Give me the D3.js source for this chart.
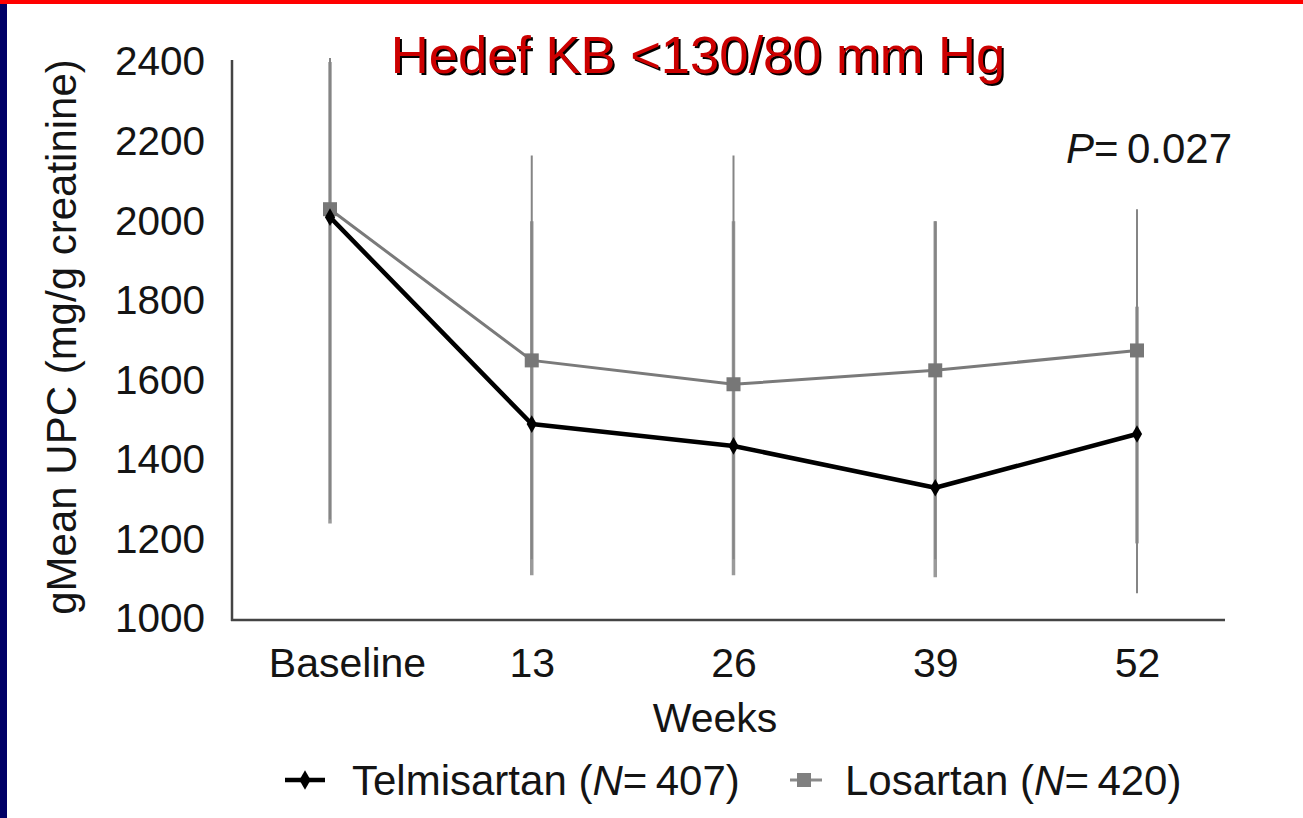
<!DOCTYPE html>
<html>
<head>
<meta charset="utf-8">
<script src="https://cdn.jsdelivr.net/npm/d3@7"></script>
<style>
  html, body { margin: 0; padding: 0; background: #fff; }
  svg { display: block; font-family: "Liberation Sans", Arial, sans-serif; }
</style>
</head>
<body>
<svg id="chart" width="1303" height="818"></svg>
<script>
// Visit labels along the x axis
const categories = ["Baseline", "13", "26", "39", "52"];

// Geometric mean UPC (mg/g creatinine) per visit
const telmisartanMean = [2010, 1490, 1435, 1330, 1465];
const losartanMean    = [2030, 1650, 1590, 1625, 1675];

// Error bar limits per visit
const telmisartanLow  = [1240, 1110, 1110, 1105, 1190];
const telmisartanHigh = [2400, 2000, 2000, 2000, 1785];
const losartanLow     = [1250, 1150, 1150, 1150, 1065];
const losartanHigh    = [2410, 2165, 2165, 2000, 2030];

const yTicks = [1000, 1200, 1400, 1600, 1800, 2000, 2200, 2400];

const svg = d3.select("#chart");
const W = 1303, H = 818;
const ink = "#141414";

// Slide frame: red top rule, navy left rule
svg.append("rect").attr("x", 0).attr("y", 0).attr("width", W).attr("height", 4).attr("fill", "#ff0000");
svg.append("rect").attr("x", 0).attr("y", 4).attr("width", 7).attr("height", H - 4).attr("fill", "#000066");

const x = d3.scalePoint().domain(categories).range([330, 1137]);
const y = d3.scaleLinear().domain([1000, 2400]).range([619, 62]);

const axisLeftX = 232, axisRightX = 1225;

// Y axis
const yAxis = svg.append("g")
  .attr("transform", `translate(${axisLeftX},0)`)
  .call(d3.axisLeft(y).tickValues(yTicks).tickSize(0).tickPadding(27).tickFormat(d3.format("d")));
yAxis.select(".domain").remove();
yAxis.selectAll("text").attr("font-size", 40.5).attr("fill", ink)
  .attr("font-family", "'Liberation Sans', Arial, sans-serif");

// X axis labels
const xAxis = svg.append("g")
  .attr("transform", `translate(0,${y(1000) + 1})`)
  .call(d3.axisBottom(x).tickSize(0).tickPadding(28));
xAxis.select(".domain").remove();
xAxis.selectAll("text").attr("font-size", 41).attr("fill", ink)
  .attr("font-family", "'Liberation Sans', Arial, sans-serif")
  .attr("dx", d => d === "Baseline" ? 17 : 0);

// Axis lines
svg.append("line")
  .attr("x1", axisLeftX).attr("x2", axisLeftX)
  .attr("y1", y(2400) - 2).attr("y2", y(1000) + 2)
  .attr("stroke", "#444").attr("stroke-width", 2.5);
svg.append("line")
  .attr("x1", axisLeftX - 1).attr("x2", axisRightX)
  .attr("y1", y(1000) + 1).attr("y2", y(1000) + 1)
  .attr("stroke", "#444").attr("stroke-width", 2.5);

// Error bars (no caps)
function errorBars(low, high, color, width) {
  svg.append("g").selectAll("line")
    .data(categories.map((c, i) => ({ c, lo: low[i], hi: high[i] })))
    .join("line")
    .attr("x1", d => x(d.c)).attr("x2", d => x(d.c))
    .attr("y1", d => y(d.lo)).attr("y2", d => y(d.hi))
    .attr("stroke", color).attr("stroke-width", width);
}
errorBars(telmisartanLow, telmisartanHigh, "#9a9a9a", 3.5);
errorBars(losartanLow, losartanHigh, "#858585", 2);

const line = d3.line().x((d, i) => x(categories[i])).y(d => y(d));

// Losartan series
svg.append("path").datum(losartanMean)
  .attr("d", line).attr("fill", "none")
  .attr("stroke", "#7a7a7a").attr("stroke-width", 3);
svg.append("g").selectAll("rect")
  .data(losartanMean)
  .join("rect")
  .attr("x", (d, i) => x(categories[i]) - 7).attr("y", d => y(d) - 7)
  .attr("width", 14).attr("height", 14)
  .attr("fill", "#777");

// Telmisartan series
svg.append("path").datum(telmisartanMean)
  .attr("d", line).attr("fill", "none")
  .attr("stroke", "#000").attr("stroke-width", 4.5).attr("stroke-linejoin", "round");
svg.append("g").selectAll("path")
  .data(telmisartanMean)
  .join("path")
  .attr("transform", (d, i) => `translate(${x(categories[i])},${y(d)})`)
  .attr("d", d3.symbol(d3.symbolDiamond, 90))
  .attr("fill", "#000");

// Axis titles
svg.append("text")
  .attr("transform", `translate(${76},${337}) rotate(-90)`)
  .attr("text-anchor", "middle")
  .attr("font-size", 42).attr("fill", ink)
  .text("gMean UPC (mg/g creatinine)");
svg.append("text")
  .attr("x", 715).attr("y", 732)
  .attr("text-anchor", "middle")
  .attr("font-size", 41).attr("fill", ink)
  .text("Weeks");

// P value
const p = svg.append("text")
  .attr("x", 1232).attr("y", 163)
  .attr("text-anchor", "end")
  .attr("font-size", 42).attr("fill", ink);
p.append("tspan").attr("font-style", "italic").text("P");
p.append("tspan").text("=\u20090.027");

// Legend
const legY = 780, legBase = 795;
svg.append("line").attr("x1", 285).attr("x2", 325).attr("y1", legY).attr("y2", legY)
  .attr("stroke", "#000").attr("stroke-width", 4.5);
svg.append("path").attr("transform", `translate(305,${legY})`)
  .attr("d", d3.symbol(d3.symbolDiamond, 110)).attr("fill", "#000");
const t1 = svg.append("text").attr("x", 352).attr("y", legBase)
  .attr("font-size", 42).attr("fill", ink);
t1.append("tspan").text("Telmisartan (");
t1.append("tspan").attr("font-style", "italic").text("N");
t1.append("tspan").text("=\u2009407)");

svg.append("line").attr("x1", 790).attr("x2", 822).attr("y1", legY).attr("y2", legY)
  .attr("stroke", "#8a8a8a").attr("stroke-width", 3);
svg.append("rect").attr("x", 797).attr("y", legY - 7).attr("width", 14).attr("height", 14)
  .attr("fill", "#808080");
const t2 = svg.append("text").attr("x", 845).attr("y", legBase)
  .attr("font-size", 42).attr("fill", ink);
t2.append("tspan").text("Losartan (");
t2.append("tspan").attr("font-style", "italic").text("N");
t2.append("tspan").text("=\u2009420)");

// Title with drop shadow
const title = "Hedef KB <130/80 mm Hg";
svg.append("text").attr("x", 700).attr("y", 75)
  .attr("text-anchor", "middle").attr("font-size", 52.5).attr("fill", "#000")
  .text(title);
svg.append("text").attr("x", 698).attr("y", 73)
  .attr("text-anchor", "middle").attr("font-size", 52.5).attr("fill", "#cc0000")
  .text(title);
</script>
</body>
</html>
